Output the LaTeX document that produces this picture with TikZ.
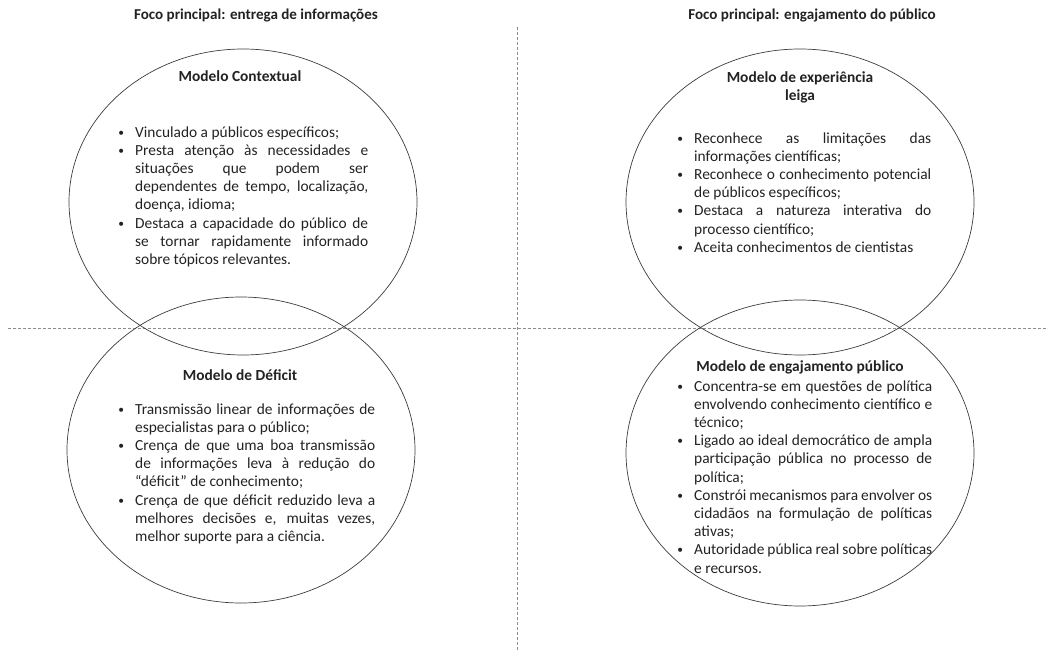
\documentclass[tikz,border=0pt]{standalone}
\usepackage{fontspec}
\setmainfont{Carlito}
\usetikzlibrary{shapes.geometric}
\definecolor{linecolor}{HTML}{3C3C3C}
\definecolor{guidecolor}{HTML}{8C8C8C}
\definecolor{textcolor}{HTML}{222222}
\tikzstyle{model} = [
    ellipse,
    draw=linecolor,
    line width=0.7pt,
    inner sep=0pt,
    minimum width=348pt,
    minimum height=306pt
    ]
\tikzstyle{modeltitle} = [
    font=\bfseries\fontsize{15.4}{18.8}\selectfont,
    text=textcolor,
    align=center,
    anchor=base
    ]
\tikzstyle{focus} = [
    font=\bfseries\fontsize{15.1}{18}\selectfont,
    text=textcolor,
    anchor=base
    ]
\tikzstyle{points} = [
    font=\fontsize{15.4}{18.2}\selectfont,
    text=textcolor,
    inner sep=0pt,
    anchor=base west
    ]
\tikzstyle{divider} = [
    draw=guidecolor,
    densely dashed,
    line width=0.6pt
    ]
\newcommand{\smallbullet}{\raisebox{1pt}{\fontsize{11.5}{11.5}\selectfont\textbullet}}
\newenvironment{pointlist}[1]{% bullet list, one line break per \linebreak
\begin{minipage}[t]{#1}\hyphenpenalty=10000 \tolerance=10000
\begin{list}{\smallbullet}{\setlength{\leftmargin}{17pt}\setlength{\labelsep}{11pt}%
\setlength{\labelwidth}{6pt}\setlength{\itemsep}{0pt}\setlength{\parsep}{0pt}%
\setlength{\topsep}{0pt}\setlength{\partopsep}{0pt}}}
{\end{list}\end{minipage}}

\begin{document}
\begin{tikzpicture}[x=1pt, y=-1pt]
\useasboundingbox (0,0) rectangle (1046,650);

% guides
\coordinate (hleft) at (8,328);
\coordinate (hright) at (1046,328);
\coordinate (vtop) at (517,27);
\coordinate (vbottom) at (517,650);
\draw[divider] (hleft) -- (hright);
\draw[divider] (vtop) -- (vbottom);

\node[focus] (focusinfo) at (256,20) {Foco principal: entrega de informações};
\node[focus] (focuspublic) at (812,20) {Foco principal: engajamento do público};

% the four models
\node[model] (contextual) at (243,202) {};
\node[model] (deficit) at (241,450) {};
\node[model] (lay) at (800,202) {};
\node[model] (engagement) at (800,453) {};

\node[modeltitle] (contextualtitle) at (240,82) {Modelo Contextual};
\node[points] (contextualpoints) at (118,137) {%
    \begin{pointlist}{250pt}
    \item Vinculado a públicos específicos;
    \item Presta atenção às necessidades e\linebreak situações que podem ser\linebreak dependentes de tempo, localização,\linebreak doença, idioma;
    \item Destaca a capacidade do público de\linebreak se tornar rapidamente informado\linebreak sobre tópicos relevantes.
    \end{pointlist}
};

\node[modeltitle] (deficittitle) at (240,380) {Modelo de Déficit};
\node[points] (deficitpoints) at (118,414) {%
    \begin{pointlist}{257pt}
    \item Transmissão linear de informações de\linebreak especialistas para o público;
    \item Crença de que uma boa transmissão\linebreak de informações leva à redução do\linebreak “déficit” de conhecimento;
    \item Crença de que déficit reduzido leva a\linebreak melhores decisões e, muitas vezes,\linebreak melhor suporte para a ciência.
    \end{pointlist}
};

\node[modeltitle] (laytitle) at (800,101) {Modelo de experiência\\leiga};
\node[points] (laypoints) at (677,143) {%
    \begin{pointlist}{254pt}
    \item Reconhece as limitações das\linebreak informações científicas;
    \item Reconhece o conhecimento potencial\linebreak de públicos específicos;
    \item Destaca a natureza interativa do\linebreak processo científico;
    \item Aceita conhecimentos de cientistas
    \end{pointlist}
};

\node[modeltitle] (engagementtitle) at (800,371) {Modelo de engajamento público};
\node[points] (engagementpoints) at (677,391) {%
    \begin{pointlist}{255pt}
    \item Concentra-se em questões de política\linebreak envolvendo conhecimento científico e\linebreak técnico;
    \item Ligado ao ideal democrático de ampla\linebreak participação pública no processo de\linebreak política;
    \item Constrói mecanismos para envolver os\linebreak cidadãos na formulação de políticas\linebreak ativas;
    \item Autoridade pública real sobre políticas\linebreak e recursos.
    \end{pointlist}
};
\end{tikzpicture}
\end{document}
